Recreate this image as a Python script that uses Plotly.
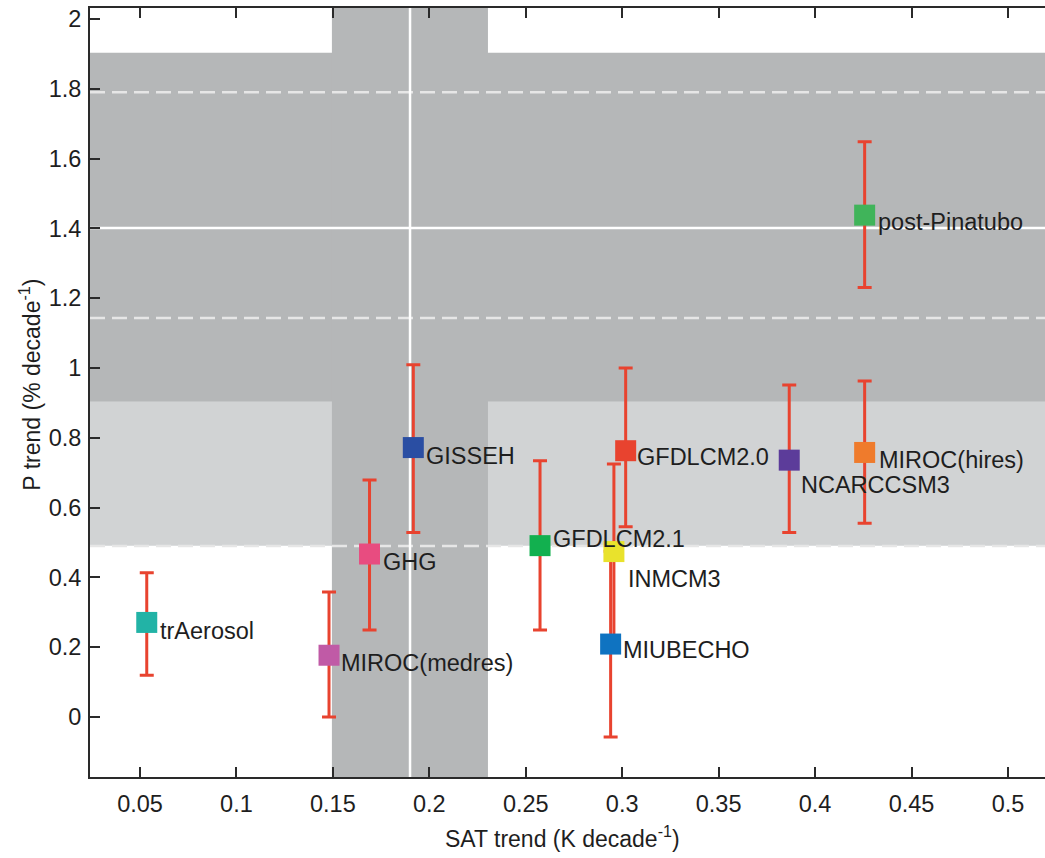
import plotly.graph_objects as go

# ---- data ----
models = ["trAerosol", "MIROC(medres)", "GHG", "GISSEH", "GFDLCM2.1", "GFDLCM2.0",
          "INMCM3", "MIUBECHO", "NCARCCSM3", "MIROC(hires)", "post-Pinatubo"]
sat_trend = [0.0535, 0.148, 0.169, 0.1917, 0.2574, 0.3018, 0.2957, 0.294, 0.3866, 0.4257, 0.4257]
p_trend = [0.271, 0.177, 0.467, 0.772, 0.491, 0.763, 0.474, 0.209, 0.736, 0.758, 1.438]
p_err_plus = [0.142, 0.181, 0.212, 0.237, 0.243, 0.237, 0.251, 0.266, 0.215, 0.205, 0.210]
p_err_minus = [0.151, 0.177, 0.218, 0.243, 0.242, 0.218, 0.250, 0.266, 0.207, 0.203, 0.207]

# observed ranges (shaded bands and reference lines)
sat_obs_band = [0.1495, 0.2304]
sat_obs_line = 0.19
p_obs_band_dark = [0.903, 1.903]
p_obs_band_light = [0.491, 0.903]
p_obs_line = 1.401
p_dashed_lines = [1.79, 1.143, 0.49]

x_ticks = [0.05, 0.1, 0.15, 0.2, 0.25, 0.3, 0.35, 0.4, 0.45, 0.5]
x_tick_text = ["0.05", "0.1", "0.15", "0.2", "0.25", "0.3", "0.35", "0.4", "0.45", "0.5"]
y_ticks = [0, 0.2, 0.4, 0.6, 0.8, 1.0, 1.2, 1.4, 1.6, 1.8, 2.0]
y_tick_text = ["0", "0.2", "0.4", "0.6", "0.8", "1", "1.2", "1.4", "1.6", "1.8", "2"]

# ---- styles ----
marker_colors = ["#22b3a6", "#c05aa6", "#e84c80", "#2a4ea3", "#12b04f", "#e8432f",
                 "#e9e22c", "#0f73c1", "#5c3c9a", "#ef7b2c", "#40b45a"]
# label offsets in pixels (dx right, dy down) from marker centre
label_dx = [11, 10, 11, 11, 11, 9, 12, 10, 10, 12, 11]
label_dy = [9, 8, 8, 8, -7, 6, 27, 6, 25, 8, 7]

DARK = "#b5b7b8"
LIGHT = "#d1d3d4"
FONT = "Liberation Sans, Arial, Helvetica, sans-serif"
TXT = "#1e1e1e"

fig = go.Figure()

fig.add_trace(go.Scatter(
    x=sat_trend, y=p_trend, mode="markers",
    marker=dict(symbol="square", size=21, color=marker_colors, line=dict(width=0)),
    error_y=dict(type="data", symmetric=False, array=p_err_plus, arrayminus=p_err_minus,
                 color="#e8432f", thickness=3, width=7),
    showlegend=False, hoverinfo="text", text=models,
))

shapes = []
shapes.append(dict(type="rect", xref="paper", yref="y", x0=0, x1=1,
                   y0=p_obs_band_light[0], y1=p_obs_band_light[1],
                   fillcolor=LIGHT, line=dict(width=0), layer="below"))
shapes.append(dict(type="rect", xref="paper", yref="y", x0=0, x1=1,
                   y0=p_obs_band_dark[0], y1=p_obs_band_dark[1],
                   fillcolor=DARK, line=dict(width=0), layer="below"))
shapes.append(dict(type="rect", xref="x", yref="paper", x0=sat_obs_band[0], x1=sat_obs_band[1],
                   y0=0, y1=1, fillcolor=DARK, line=dict(width=0), layer="below"))
for yv in p_dashed_lines:
    shapes.append(dict(type="line", xref="paper", yref="y", x0=0, x1=1, y0=yv, y1=yv,
                       line=dict(color="#e6e6e6", width=2.5, dash="15px,7px"), layer="below"))
shapes.append(dict(type="line", xref="paper", yref="y", x0=0, x1=1, y0=p_obs_line, y1=p_obs_line,
                   line=dict(color="white", width=2.5), layer="below"))
shapes.append(dict(type="line", xref="x", yref="paper", x0=sat_obs_line, x1=sat_obs_line, y0=0, y1=1,
                   line=dict(color="white", width=2.5), layer="below"))

annotations = []
for name, xv, yv, dx, dy in zip(models, sat_trend, p_trend, label_dx, label_dy):
    annotations.append(dict(x=xv, y=yv, xref="x", yref="y", text=name, showarrow=False,
                            xanchor="left", yanchor="middle", xshift=dx, yshift=-dy,
                            font=dict(family=FONT, size=23.5, color=TXT)))

annotations.append(dict(x=-0.063, y=0.51, xref="paper", yref="paper",
                        text="P trend (% decade<sup>-1</sup>)", textangle=-90, showarrow=False,
                        xanchor="center", yanchor="middle",
                        font=dict(family=FONT, size=23, color=TXT)))
annotations.append(dict(x=0.495, y=-0.078, xref="paper", yref="paper",
                        text="SAT trend (K decade<sup>-1</sup>)", showarrow=False,
                        xanchor="center", yanchor="middle",
                        font=dict(family=FONT, size=23, color=TXT)))

fig.update_layout(
    width=1045, height=858,
    margin=dict(l=90, r=0, t=8, b=81),
    paper_bgcolor="white", plot_bgcolor="white",
    shapes=shapes, annotations=annotations,
    font=dict(family=FONT, size=23, color=TXT),
    xaxis=dict(range=[0.02408, 0.5192], tickvals=x_ticks, ticktext=x_tick_text,
               showgrid=False, zeroline=False, showline=True, linecolor="#2a2a2a", linewidth=2,
               mirror="ticks", ticks="inside", ticklen=10, tickwidth=1.5, tickcolor="#2a2a2a",
               ticklabelstandoff=5, tickfont=dict(family=FONT, size=23.5, color=TXT)),
    yaxis=dict(range=[-0.1719, 2.0315], tickvals=y_ticks, ticktext=y_tick_text,
               showgrid=False, zeroline=False, showline=True, linecolor="#2a2a2a", linewidth=2,
               mirror=False, ticks="inside", ticklen=10, tickwidth=1.5, tickcolor="#2a2a2a",
               ticklabelstandoff=2, tickfont=dict(family=FONT, size=23.5, color=TXT)),
)

fig.write_html("out.html", config={"displayModeBar": False},
               post_script="document.body.style.margin='0';document.body.style.overflow='hidden';")
